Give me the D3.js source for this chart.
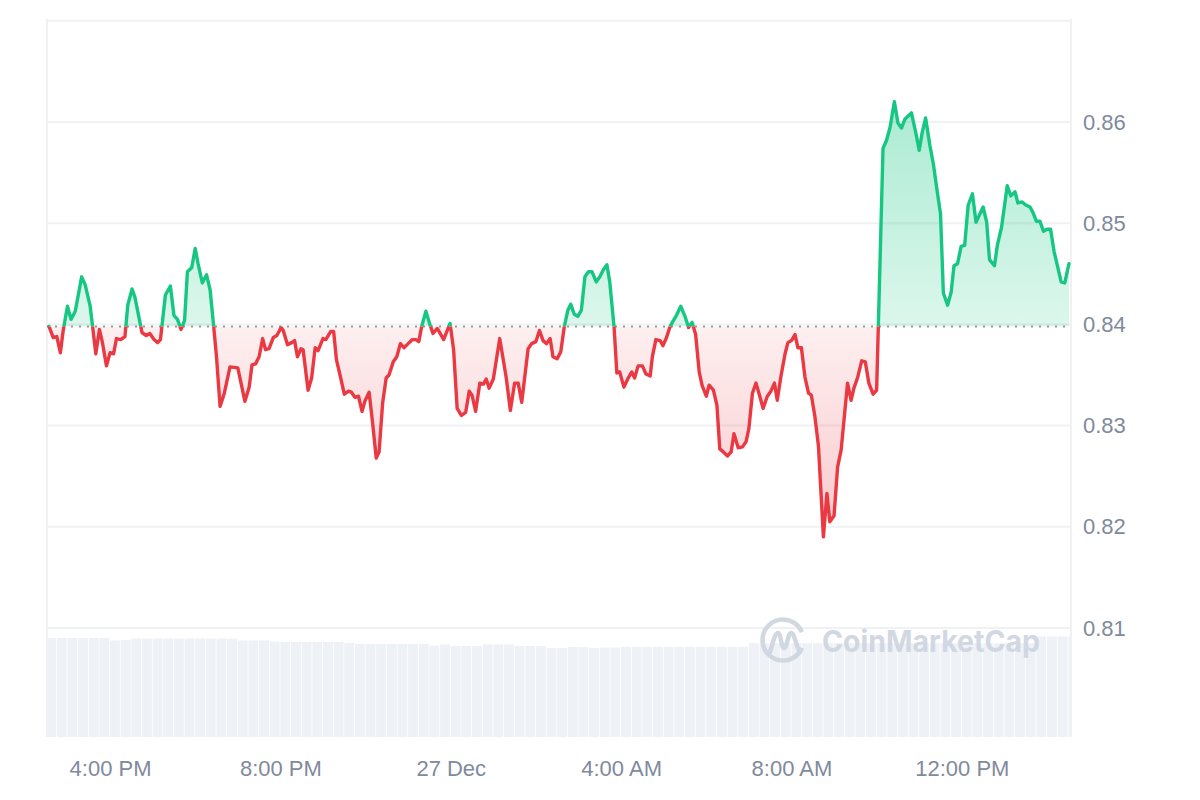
<!DOCTYPE html>
<html>
<head>
<meta charset="utf-8">
<script src="https://cdn.jsdelivr.net/npm/d3@7"></script>
<style>
  html, body { margin: 0; padding: 0; background: #ffffff; }
  svg { display: block; font-family: "Liberation Sans", Arial, Helvetica, sans-serif; }
</style>
</head>
<body>
<svg id="chart" width="1200" height="800"></svg>
<script>
// ---------------- DATA ----------------
// time of each price point, minutes after 00:00 on 26 Dec
const minutesSinceDec26 = [
  874,880,885,890,894,900,905,911,920,925,
  932,940,945,949,955,960,965,969,975,981,
  985,991,995,1005,1011,1016,1022,1027,1031,1038,
  1045,1050,1055,1060,1065,1069,1075,1080,1084,1090,
  1096,1101,1106,1110,1115,1121,1129,1140,1150,1156,
  1160,1165,1170,1175,1179,1184,1190,1195,1201,1204,
  1210,1216,1220,1224,1229,
  1232,1239,1244,1249,1253,1260,1264,1271,1275,1279,
  1284,1290,1296,1300,1305,1310,1315,1319,1325,1330,
  1335,1339,1344,1349,1353,1359,1364,1369,1374,1380,
  1386,1391,1395,1399,1405,1411,1415,1421,1430,1439,
  1444,1449,1455,1461,1466,1470,1475,1481,1486,1490,
  1494,1500,1509,1518,1524,1530,1535,1540,1549,1554,
  1560,1565,1570,1575,1580,1584,1590,1595,
  1600,1605,1609,1614,1619,1624,1629,1634,1639,1645,
  1650,1655,1660,1664,1670,1674,1678,1684,1690,1695,
  1699,1704,1710,1715,1721,1724,1729,1735,1739,1744,
  1749,1753,1758,1764,1770,1775,1780,1785,1790,1794,
  1800,1804,1810,1815,1819,1824,1830,1835,1839,1845,
  1851,1856,1860,1865,1870,1875,1880,1886,1891,1896,
  1900,1905,1911,1915,1920,1925,1929,1934,1939,1944,
  1948,1953,1958,
  1965,1970,1974,1980,1985,1990,1999,2004,2008,2013,
  2019,2024,2029,2035,2040,
  2049,2054,2059,2065,2070,2075,2080,2089,2095,2100,
  2104,2109,2115,2120,2125,2130,2134,2140,2145,2149,
  2154,2159,2164,2169,2175,2180,2190,2195,2199,2206,
  2210,2216,2224,2229,2235,2239,2245,2250,2256,2260,
  2265,2270,2275,2280,2285,2290,2300,2305,2311
];

const prices = [
  0.8398,0.8387,0.8388,0.8372,0.8394,0.8418,0.8405,0.8413,0.8447,0.8439,
  0.8418,0.8371,0.8395,0.8383,0.8359,0.8372,0.8371,0.8386,0.8385,0.8388,
  0.8419,0.8435,0.8427,0.8392,0.8389,0.8391,0.8385,0.8382,0.8385,0.8429,
  0.8438,0.8409,0.8405,0.8395,0.8404,0.8452,0.8456,0.8475,0.8460,0.8441,
  0.8449,0.8434,0.8398,0.8368,0.8319,0.8332,0.8358,0.8357,0.8324,0.8338,
  0.8360,0.8361,0.8368,0.8386,0.8375,0.8376,0.8387,0.8389,0.8397,0.8394,
  0.8380,0.8382,0.8384,0.8368,0.8376,
  0.8375,0.8335,0.8347,0.8377,0.8374,0.8386,0.8385,0.8393,0.8393,0.8365,
  0.8350,0.8331,0.8334,0.8333,0.8328,0.8329,0.8314,0.8324,0.8333,0.8302,
  0.8268,0.8274,0.8322,0.8347,0.8350,0.8363,0.8368,0.8381,0.8377,0.8381,
  0.8385,0.8385,0.8383,0.8398,0.8413,0.8399,0.8391,0.8396,0.8385,0.8401,
  0.8375,0.8317,0.8310,0.8313,0.8334,0.8330,0.8314,0.8342,0.8341,0.8346,
  0.8337,0.8346,0.8386,0.8348,0.8315,0.8342,0.8342,0.8323,0.8376,0.8381,
  0.8383,0.8394,0.8384,0.8381,0.8386,0.8368,0.8366,0.8373,
  0.8398,0.8414,0.8420,0.8410,0.8408,0.8414,0.8447,0.8452,0.8452,0.8442,
  0.8447,0.8454,0.8459,0.8442,0.8398,0.8352,0.8353,0.8338,0.8347,0.8353,
  0.8347,0.8359,0.8359,0.8351,0.8349,0.8368,0.8385,0.8384,0.8379,0.8387,
  0.8398,0.8403,0.8409,0.8418,0.8408,0.8397,0.8402,0.8390,0.8353,0.8340,
  0.8329,0.8340,0.8335,0.8320,0.8277,0.8274,0.8270,0.8274,0.8292,0.8278,
  0.8279,0.8284,0.8297,0.8332,0.8342,0.8330,0.8317,0.8329,0.8334,0.8342,
  0.8325,0.8348,0.8371,0.8382,0.8384,0.8390,0.8377,0.8377,0.8348,0.8332,
  0.8330,0.8309,0.8280,
  0.8190,0.8233,0.8205,0.8211,0.8259,0.8276,0.8342,0.8325,0.8337,0.8347,
  0.8364,0.8363,0.8342,0.8331,0.8335,
  0.8574,0.8582,0.8595,0.8620,0.8599,0.8594,0.8603,0.8609,0.8590,0.8572,
  0.8589,0.8604,0.8577,0.8558,0.8533,0.8509,0.8431,0.8419,0.8432,0.8458,
  0.8460,0.8477,0.8478,0.8518,0.8529,0.8501,0.8516,0.8501,0.8464,0.8458,
  0.8478,0.8496,0.8537,0.8527,0.8531,0.8520,0.8521,0.8518,0.8516,0.8511,
  0.8502,0.8502,0.8492,0.8494,0.8494,0.8472,0.8442,0.8441,0.8460
];

// reference (opening) price shown by the dotted line
const openPrice = 0.8398;

// volume bars: one per 15 minutes starting 14:30 on 26 Dec (relative units)
const volumeStartMinute = 870;
const volumeStepMinutes = 15;
const volumes = [
  99.0,99.0,99.0,99.0,99.0,99.0,96.5,97.0,98.5,98.5,
  98.5,98.5,98.5,98.5,98.5,98.5,98.5,98.2,96.5,96.5,
  96.5,95.5,95.0,95.0,95.0,95.0,95.0,95.0,94.0,93.0,
  93.0,93.0,93.0,93.0,93.0,93.0,91.5,92.5,91.0,91.0,
  91.0,92.5,92.5,92.5,91.0,91.0,91.0,89.0,89.0,90.0,
  90.0,89.0,89.5,89.5,90.2,90.2,90.2,90.2,90.2,90.2,
  90.2,90.2,90.2,90.2,90.2,90.2,93.8,93.8,93.8,93.8,
  93.8,93.8,93.8,93.8,93.8,93.8,93.8,93.8,93.8,93.8,
  93.8,93.8,93.8,93.8,93.8,93.8,93.8,93.8,93.8,93.8,
  93.8,93.8,93.8,100.5,100.5,100.5,100.5
];

// axes
const yTickValues = [0.81, 0.82, 0.83, 0.84, 0.85, 0.86];
const yTickLabels = ["0.81", "0.82", "0.83", "0.84", "0.85", "0.86"];
const gridValues = [0.81, 0.82, 0.83, 0.84, 0.85, 0.86, 0.87];
const xTickMinutes = [960, 1200, 1440, 1680, 1920, 2160];
const xTickLabels = ["4:00 PM", "8:00 PM", "27 Dec", "4:00 AM", "8:00 AM", "12:00 PM"];

// ---------------- DRAWING ----------------
const baseDate = new Date(2024, 11, 26, 0, 0, 0);
const toDate = m => new Date(baseDate.getTime() + m * 60000);

const data = minutesSinceDec26.map((m, i) => ({ t: toDate(m), v: prices[i] }));
const volData = volumes.map((v, i) => ({
  t0: toDate(volumeStartMinute + i * volumeStepMinutes),
  t1: toDate(volumeStartMinute + (i + 1) * volumeStepMinutes),
  v
}));

const plot = { left: 47, right: 1071, top: 20, bottom: 737 };
const GREEN = "#16c784", RED = "#ea3943";
const TEXT = "#808a9d", GRID = "#f0f1f3";

const svg = d3.select("#chart");
svg.append("rect").attr("width", 1200).attr("height", 800).attr("fill", "#fff");

const x = d3.scaleTime()
  .domain(d3.extent(data, d => d.t))
  .range([49, 1069]);
const y = d3.scaleLinear().domain([0.81, 0.86]).range([628, 122]);
const yVol = d3.scaleLinear().domain([0, d3.max(volumes)]).range([plot.bottom, 636.5]);

const baseY = y(openPrice);

const defs = svg.append("defs");
defs.append("clipPath").attr("id", "plotClip").append("rect")
  .attr("x", plot.left).attr("y", plot.top)
  .attr("width", plot.right - plot.left).attr("height", plot.bottom - plot.top);
defs.append("clipPath").attr("id", "aboveClip").append("rect")
  .attr("x", plot.left - 5).attr("y", plot.top - 10)
  .attr("width", plot.right - plot.left + 10).attr("height", baseY - plot.top + 10);
defs.append("clipPath").attr("id", "belowClip").append("rect")
  .attr("x", plot.left - 5).attr("y", baseY)
  .attr("width", plot.right - plot.left + 10).attr("height", plot.bottom - baseY + 10);

const gGreen = defs.append("linearGradient").attr("id", "greenGrad")
  .attr("gradientUnits", "userSpaceOnUse").attr("x1", 0).attr("x2", 0)
  .attr("y1", y(0.862)).attr("y2", baseY);
gGreen.append("stop").attr("offset", 0).attr("stop-color", GREEN).attr("stop-opacity", 0.36);
gGreen.append("stop").attr("offset", 1).attr("stop-color", GREEN).attr("stop-opacity", 0.15);

const gRed = defs.append("linearGradient").attr("id", "redGrad")
  .attr("gradientUnits", "userSpaceOnUse").attr("x1", 0).attr("x2", 0)
  .attr("y1", baseY).attr("y2", y(0.819));
gRed.append("stop").attr("offset", 0).attr("stop-color", RED).attr("stop-opacity", 0.08);
gRed.append("stop").attr("offset", 1).attr("stop-color", RED).attr("stop-opacity", 0.27);

// grid lines
svg.append("g").selectAll("line").data(gridValues).join("line")
  .attr("x1", plot.left).attr("x2", plot.right)
  .attr("y1", d => y(d)).attr("y2", d => y(d))
  .attr("stroke", GRID).attr("stroke-width", 2);
svg.append("g").selectAll("line").data([plot.left, plot.right]).join("line")
  .attr("x1", d => d).attr("x2", d => d)
  .attr("y1", plot.top - 1).attr("y2", plot.bottom)
  .attr("stroke", GRID).attr("stroke-width", 2);

// volume bars
svg.append("g").attr("clip-path", "url(#plotClip)")
  .selectAll("rect").data(volData).join("rect")
  .attr("x", d => x(d.t0))
  .attr("width", d => Math.max(0.5, x(d.t1) - x(d.t0) - 0.8))
  .attr("y", d => yVol(d.v))
  .attr("height", d => plot.bottom - yVol(d.v))
  .attr("fill", "#eef1f5");

// watermark
const wm = svg.append("g").attr("opacity", 0.95);
wm.append("circle").attr("cx", 783).attr("cy", 640).attr("r", 20.5)
  .attr("fill", "none").attr("stroke", "#d0d6e1").attr("stroke-width", 4.5)
  .attr("stroke-dasharray", "112 17").attr("stroke-dashoffset", -8);
wm.append("path")
  .attr("d", "M770,652 C773,642 775,633 778,633 C781,633 781,648 784,648 C787,648 788,633 791,633 C795,633 795,645 800,652")
  .attr("fill", "none").attr("stroke", "#d0d6e1").attr("stroke-width", 4.5)
  .attr("stroke-linecap", "round").attr("stroke-linejoin", "round");
wm.append("text").attr("x", 822).attr("y", 652)
  .attr("font-family", "Inter, 'Open Sans', sans-serif").attr("font-weight", 700)
  .attr("font-size", 30).attr("fill", "#d0d6e1")
  .attr("textLength", 218).attr("lengthAdjust", "spacingAndGlyphs")
  .text("CoinMarketCap");

// areas
const area = d3.area().x(d => x(d.t)).y0(baseY).y1(d => y(d.v));
const plotG = svg.append("g").attr("clip-path", "url(#plotClip)");
plotG.append("path").datum(data).attr("d", area)
  .attr("fill", "url(#greenGrad)").attr("clip-path", "url(#aboveClip)");
plotG.append("path").datum(data).attr("d", area)
  .attr("fill", "url(#redGrad)").attr("clip-path", "url(#belowClip)");

// dotted reference line
svg.append("line")
  .attr("x1", plot.left).attr("x2", plot.right)
  .attr("y1", baseY).attr("y2", baseY)
  .attr("stroke", "#9a9a9a").attr("stroke-width", 2)
  .attr("stroke-dasharray", "2,6");

// price lines
const line = d3.line().x(d => x(d.t)).y(d => y(d.v));
svg.append("path").datum(data).attr("d", line)
  .attr("fill", "none").attr("stroke", GREEN).attr("stroke-width", 3.4)
  .attr("stroke-linejoin", "round").attr("stroke-linecap", "round")
  .attr("clip-path", "url(#aboveClip)");
svg.append("path").datum(data).attr("d", line)
  .attr("fill", "none").attr("stroke", RED).attr("stroke-width", 3.4)
  .attr("stroke-linejoin", "round").attr("stroke-linecap", "round")
  .attr("clip-path", "url(#belowClip)");

// x axis
const xAxis = d3.axisBottom(x)
  .tickValues(xTickMinutes.map(toDate))
  .tickFormat((d, i) => xTickLabels[i])
  .tickSize(0);
const gx = svg.append("g").attr("transform", `translate(0,${plot.bottom})`).call(xAxis);
gx.select(".domain").remove();
gx.selectAll("text").attr("y", 39).attr("dy", 0)
  .attr("fill", TEXT).attr("font-size", 22)
  .attr("font-family", "'Liberation Sans', Arial, sans-serif");

// y axis
const yAxis = d3.axisRight(y)
  .tickValues(yTickValues)
  .tickFormat((d, i) => yTickLabels[i])
  .tickSize(0).tickPadding(12);
const gy = svg.append("g").attr("transform", `translate(${plot.right},0)`).call(yAxis);
gy.select(".domain").remove();
gy.selectAll("text").attr("fill", TEXT).attr("font-size", 22)
  .attr("font-family", "'Liberation Sans', Arial, sans-serif");
</script>
</body>
</html>
